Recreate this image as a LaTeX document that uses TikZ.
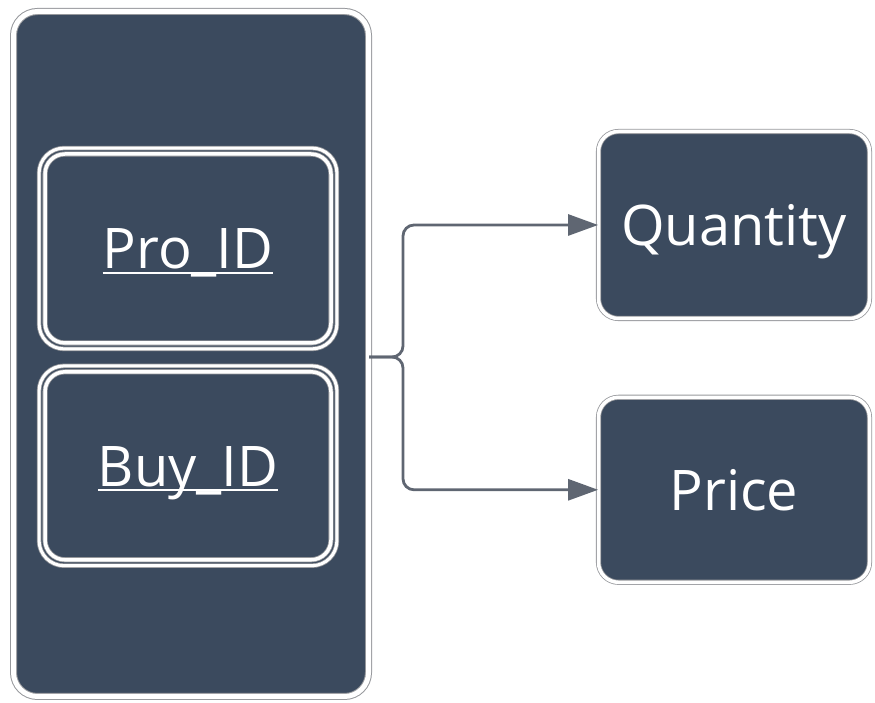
\documentclass[tikz,border=0pt]{standalone}
\usepackage{xcolor}
\usepackage{fontspec}
\setmainfont{Open Sans}
\usepackage{tikz}
\usetikzlibrary{positioning, arrows.meta}

\definecolor{boxfill}{RGB}{59,74,94}
\definecolor{ringgray}{RGB}{150,152,156}
\definecolor{linkgray}{RGB}{95,102,114}

\newcommand{\keyline}[1]{\setbox0=\hbox{#1}\rlap{\rule[-0.085em]{\wd0}{0.04em}}\box0}

\begin{document}
\begin{tikzpicture}[
        x=1pt, y=1pt,
        node distance=28pt,
        entity/.style={rectangle, rounded corners=24pt, fill=boxfill, draw=ringgray, line width=1pt, double=white, double distance=5pt},
        attr/.style={rectangle, rounded corners=20pt, fill=boxfill, draw=ringgray, line width=0.8pt, double=white, double distance=3.5pt, text=white, font=\fontsize{56}{62}\selectfont, text height=41pt, text depth=0pt, text centered},
        ring/.style={draw=ringgray, line width=0.8pt, double=white, double distance=3pt, rounded corners=25pt},
        link/.style={draw=linkgray, line width=2.8pt, rounded corners=11pt, -{Triangle[length=30pt, width=21pt]}}
    ]
        \useasboundingbox (0,0) rectangle (875,703);

        % Nodes
        \node (store) [entity, minimum width=355pt, minimum height=685pt] at (191,349) {};
        \node (pro) [attr, minimum width=286pt, minimum height=189pt] at (188,454.5) {\keyline{Pro\_ID}};
        \node (buy) [attr, minimum width=286pt, minimum height=188pt, below=of pro] {\keyline{Buy\_ID}};
        \node (qty) [attr, minimum width=271pt, minimum height=187pt] at (734,478) {Quantity};
        \node (price) [attr, minimum width=271pt, minimum height=185pt, below=78pt of qty] {Price};

        % Outer rings of the key boxes
        \draw [ring] ([shift={(-5.5pt,5.5pt)}]pro.north west) rectangle ([shift={(5.5pt,-5.5pt)}]pro.south east);
        \draw [ring] ([shift={(-5.5pt,5.5pt)}]buy.north west) rectangle ([shift={(5.5pt,-5.5pt)}]buy.south east);

        % Arrows
        \coordinate (fork) at (403,346);
        \draw [link] (store.east |- fork) -- (fork) |- (qty.west);
        \draw [link] (store.east |- fork) -- (fork) |- (price.west);
    \end{tikzpicture}
\end{document}
